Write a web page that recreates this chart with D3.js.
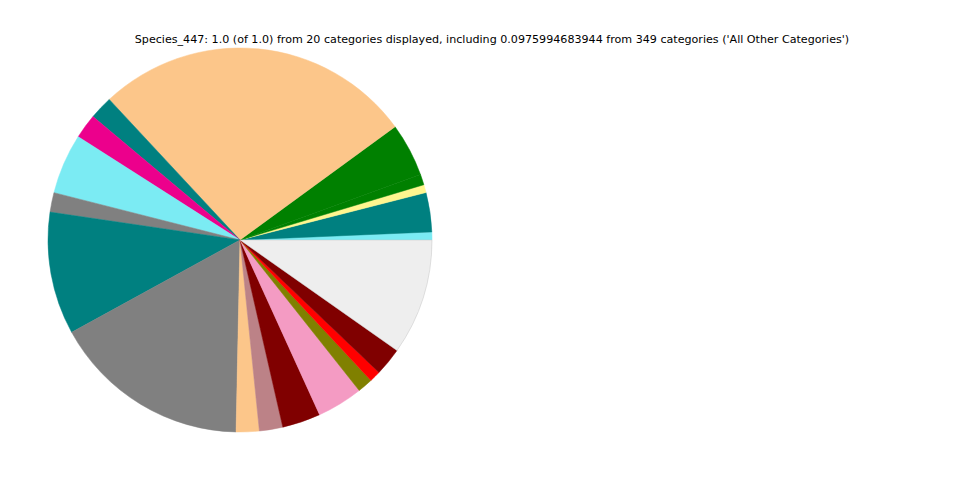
<!DOCTYPE html>
<html>
<head>
<meta charset="utf-8">
<script src="https://cdn.jsdelivr.net/npm/d3@7"></script>
<style>
  html, body { margin: 0; padding: 0; background: #fff; }
  svg { display: block; }
</style>
</head>
<body>
<svg id="chart" width="960" height="480"></svg>
<script>
const titleText = "Species_447: 1.0 (of 1.0) from 20 categories displayed, including 0.0975994683944 from 349 categories ('All Other Categories')";
const categories = ["Cat 1","Cat 2","Cat 3","Cat 4","Cat 5","Cat 6","Cat 7","Cat 8","Cat 9","Cat 10",
  "Cat 11","Cat 12","Cat 13","Cat 14","Cat 15","Cat 16","Cat 17","Cat 18","Cat 19","All Other Categories"];
const values = [0.0067, 0.0331, 0.0067, 0.0089, 0.0450, 0.2689, 0.0196, 0.0207, 0.0508, 0.0164,
  0.1031, 0.1669, 0.0194, 0.0197, 0.0322, 0.0386, 0.0128, 0.0094, 0.0236, 0.0975994683944];
const colors = ["#7BEBF3","#008080","#FFF68F","#008000","#008000","#FCC68A","#008080","#EC008C","#7BEBF3","#808080",
  "#008080","#808080","#FCC68A","#BC8287","#800000","#F49BC3","#808000","#FF0000","#800000","#EEEEEE"];

const svg = d3.select("#chart");
const cx = 240, cy = 240, r = 192;

const data = categories.map((c, i) => ({ cat: c, value: values[i], color: colors[i] }));

const pie = d3.pie().sort(null).value(d => d.value)
  .startAngle(Math.PI / 2).endAngle(Math.PI / 2 - 2 * Math.PI);
const arc = d3.arc().innerRadius(0).outerRadius(r);

const g = svg.append("g").attr("transform", `translate(${cx},${cy})`);
g.selectAll("path").data(pie(data)).enter().append("path")
  .attr("d", arc)
  .attr("fill", d => d.data.color)
  .attr("stroke", d => d.data.color === "#EEEEEE" ? "#c4c4c4" : d.data.color)
  .attr("stroke-width", 0.5);

svg.append("text")
  .attr("x", 492).attr("y", 43)
  .attr("text-anchor", "middle")
  .attr("font-family", "DejaVu Sans, sans-serif")
  .attr("font-size", 11.12)
  .attr("fill", "#000")
  .text(titleText);
</script>
</body>
</html>
